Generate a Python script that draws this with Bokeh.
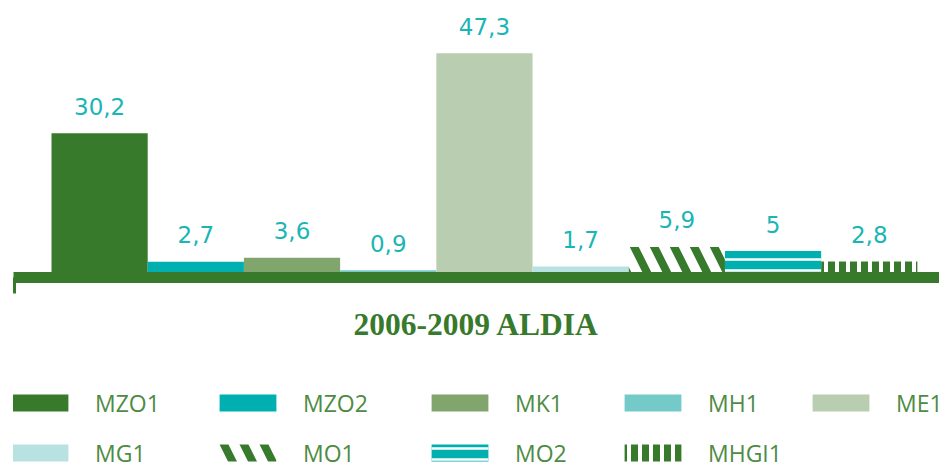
from bokeh.plotting import figure
from bokeh.layouts import column
from bokeh.models import Range1d, FixedTicker, Legend, LegendItem, ColumnDataSource
from bokeh.embed import file_html
from bokeh.resources import INLINE

# ---- data ----
categories = ["MZO1", "MZO2", "MK1", "MH1", "ME1", "MG1", "MO1", "MO2", "MHGI1"]
values = [30.2, 2.7, 3.6, 0.9, 47.3, 1.7, 5.9, 5, 2.8]
title_text = "2006-2009 ALDIA"

# ---- styles ----
DARK = "#387A2C"
TEAL = "#00B0B0"
styles = {
    "MZO1": dict(fill_color=DARK),
    "MZO2": dict(fill_color=TEAL),
    "MK1": dict(fill_color="#80A56D"),
    "MH1": dict(fill_color="#74C9C9"),
    "ME1": dict(fill_color="#B9CEB0"),
    "MG1": dict(fill_color="#B8E2E2"),
    "MO1": dict(fill_color="white", hatch_pattern="\\", hatch_color=DARK,
                hatch_weight=8, hatch_scale=40),
    "MO2": dict(fill_color=TEAL, hatch_pattern="-", hatch_color="white",
                hatch_weight=2.5, hatch_scale=11),
    "MHGI1": dict(fill_color="white", hatch_pattern="|", hatch_color=DARK,
                  hatch_weight=7, hatch_scale=11),
}

W = 939
p = figure(width=W, height=360, output_backend="svg", toolbar_location=None,
           x_range=Range1d(-0.895, 8.73), y_range=Range1d(-0.64, 56.84),
           y_axis_location=None,
           min_border_left=13, min_border_right=0, min_border_top=8,
           min_border_bottom=83)
p.outline_line_color = None
p.xgrid.visible = False
p.ygrid.visible = False

for i, (c, v) in enumerate(zip(categories, values)):
    src = ColumnDataSource(dict(x=[i], top=[v]))
    p.vbar(x="x", top="top", bottom=0, width=1.0, source=src,
           line_color=None, **styles[c])

labels = [("%g" % v).replace(".", ",") for v in values]
lsrc = ColumnDataSource(dict(x=list(range(len(categories))), y=values, t=labels))
p.text(x="x", y="y", text="t", source=lsrc, text_align="center",
       text_baseline="alphabetic", y_offset=-27, text_color="#1AB5B5",
       text_font_size="23px", text_font={"value": "DejaVu Sans"})

ax = p.xaxis[0]
ax.ticker = FixedTicker(ticks=[-0.88])
ax.major_label_text_font_size = "0px"
ax.axis_line_width = 11
ax.axis_line_color = DARK
ax.major_tick_in = 0
ax.major_tick_out = 16
ax.major_tick_line_width = 3
ax.major_tick_line_color = DARK
ax.minor_tick_line_color = None
ax.axis_label = title_text
ax.axis_label_text_font = "Liberation Serif"
ax.axis_label_text_font_style = "bold"
ax.axis_label_text_font_size = "31.5px"
ax.axis_label_text_color = DARK
ax.axis_label_standoff = 13

# ---- legend area ----
p2 = figure(width=W, height=103, output_backend="svg", toolbar_location=None,
            x_range=Range1d(0, 1), y_range=Range1d(0, 1),
            x_axis_location=None, y_axis_location=None,
            min_border=0)
p2.outline_line_color = None
p2.xgrid.visible = False
p2.ygrid.visible = False

leg_renderers = {}
for i, (c, v) in enumerate(zip(categories, values)):
    src = ColumnDataSource(dict(x=[i + 100], top=[v]))
    leg_renderers[c] = p2.vbar(x="x", top="top", bottom=0, width=1.0, source=src,
                               line_color=None, **styles[c])

col_x = [-9, 199, 411, 604, 792]
ITEM_H = 32
ncol = 5
for col in range(ncol):
    items = []
    for row in range(2):
        idx = row * ncol + col
        if idx < len(categories):
            c = categories[idx]
            items.append(LegendItem(label=c, renderers=[leg_renderers[c]]))
    n = len(items)
    bottom = -5.5 if n == 2 else 44.5
    leg = Legend(items=items, location=(col_x[col], bottom), orientation="vertical",
                 glyph_width=71, glyph_height=21, label_height=17, label_standoff=20,
                 spacing=50 - ITEM_H, padding=0, margin=0, border_line_color=None,
                 background_fill_alpha=0, label_text_font="Open Sans",
                 label_text_font_size="23px", label_text_color="#4E8B45")
    p2.add_layout(leg)

open("out.html", "w").write(file_html(column(p, p2, spacing=0), INLINE))
